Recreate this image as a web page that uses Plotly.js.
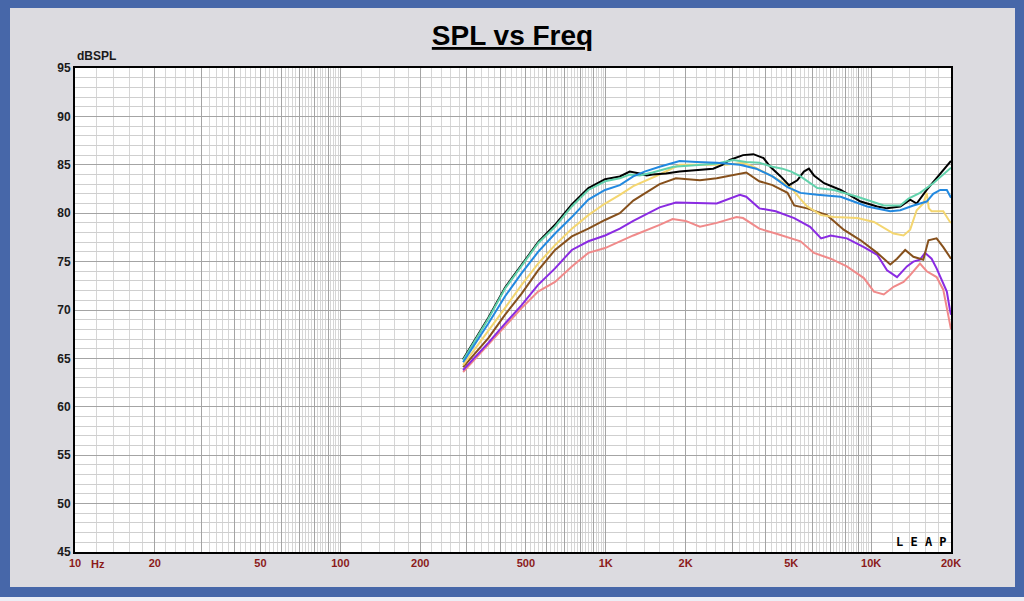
<!DOCTYPE html>
<html>
<head>
<meta charset="utf-8">
<script src="https://cdn.plot.ly/plotly-3.0.1.min.js"></script>
<style>
html,body{margin:0;padding:0;background:#eceef5;overflow:hidden;}
#frame{position:absolute;left:0;top:0;width:1024px;height:597px;background:#4767a9;}
#chart{position:absolute;left:10px;top:8px;width:1005px;height:579px;}
</style>
</head>
<body>
<div id="frame"></div>
<div id="chart"></div>
<script>
// [Hz, dB SPL]
const pink = [[290,63.6],[361,66.4],[417,68.3],[482,70.2],[556,71.9],[644,72.9],[745,74.5],[860,75.9],[994,76.4],[1130,77.1],[1270,77.7],[1596,78.8],[1786,79.4],[2000,79.2],[2264,78.6],[2620,79.0],[3110,79.6],[3292,79.5],[3790,78.4],[4370,77.9],[5420,77.1],[6090,75.9],[7040,75.3],[8100,74.5],[9390,73.3],[10250,71.9],[11160,71.6],[12150,72.4],[13250,72.9],[14030,73.6],[15280,74.8],[16200,74.0],[17650,73.4],[18700,72.1],[19820,68.6],[20000,68.0]];
const purple = [[290,63.8],[361,66.6],[417,68.6],[482,70.5],[556,72.6],[644,74.3],[745,76.2],[860,77.1],[994,77.7],[1130,78.4],[1270,79.2],[1596,80.6],[1838,81.1],[2264,81.0],[2620,81.0],[3200,81.9],[3384,81.7],[3790,80.5],[4370,80.2],[5130,79.5],[5890,78.6],[6480,77.4],[7040,77.7],[8100,77.4],[9390,76.5],[10540,75.7],[11480,74.1],[12520,73.4],[13640,74.5],[14430,75.0],[15280,75.2],[15970,75.9],[16900,75.3],[17650,74.3],[19290,71.9],[19820,70.0],[20000,69.5]];
const brown = [[290,64.1],[361,67.1],[417,69.5],[482,71.7],[556,74.1],[644,76.2],[745,77.6],[860,78.4],[994,79.3],[1130,80.0],[1270,81.3],[1596,83.0],[1838,83.6],[2264,83.4],[2620,83.6],[3200,84.1],[3384,84.2],[3790,83.3],[4250,82.9],[4840,82.1],[5130,80.8],[5740,80.5],[6820,79.8],[7880,78.3],[9130,77.2],[10540,75.9],[11810,74.7],[12520,75.3],[13440,76.2],[14430,75.5],[15730,75.2],[16450,77.2],[17650,77.4],[18700,76.5],[19820,75.5],[20000,75.3]];
const yellow = [[290,64.3],[361,67.8],[417,70.2],[482,72.6],[556,74.8],[644,76.7],[745,78.4],[860,79.8],[994,81.0],[1130,81.9],[1270,82.8],[1596,84.0],[1898,85.0],[2264,85.0],[2840,85.0],[3292,85.2],[3600,84.8],[4250,83.8],[4980,82.7],[5400,81.5],[5740,80.7],[6480,79.8],[7240,79.6],[8880,79.5],[10250,79.1],[12150,77.9],[13250,77.7],[14030,78.3],[14850,80.3],[15730,81.0],[16200,82.1],[16500,80.5],[16900,80.2],[17650,80.2],[18700,80.2],[19820,79.1],[20000,79.0]];
const black = [[290,64.9],[361,69.2],[417,72.3],[482,74.7],[556,77.0],[644,78.8],[745,80.9],[860,82.6],[994,83.5],[1130,83.8],[1231,84.3],[1343,84.1],[1425,83.9],[1500,84.0],[1686,84.1],[1898,84.3],[2264,84.5],[2540,84.6],[2750,85.0],[2931,85.5],[3292,86.0],[3600,86.1],[3932,85.7],[4170,84.8],[4563,83.8],[4905,82.9],[5270,83.4],[5580,84.3],[5830,84.6],[6090,83.9],[6650,83.1],[7680,82.4],[9130,81.2],[10540,80.7],[11480,80.5],[12880,80.7],[14030,81.4],[14850,81.0],[16200,82.4],[18210,84.1],[19820,85.3],[20000,85.4]];
const teal = [[290,64.8],[361,69.1],[417,72.2],[482,74.6],[556,76.9],[644,78.6],[745,80.7],[860,82.4],[994,83.3],[1130,83.6],[1231,84.0],[1343,83.9],[1500,84.2],[1800,84.8],[2264,85.0],[2600,85.1],[3017,85.5],[3384,85.3],[3790,85.2],[4250,84.8],[4630,84.6],[5000,84.3],[5420,83.8],[6270,82.6],[7240,82.4],[8880,81.7],[11160,80.8],[12880,80.8],[13830,81.5],[15280,82.1],[17140,83.1],[19820,84.6],[20000,84.7]];
const blue = [[290,64.6],[361,68.6],[417,71.4],[482,73.8],[556,76.0],[644,77.9],[745,79.6],[860,81.4],[994,82.4],[1130,82.9],[1270,83.8],[1400,84.3],[1596,84.8],[1898,85.4],[2200,85.3],[2620,85.2],[3200,85.0],[3690,84.6],[4250,83.8],[4840,82.7],[5420,82.1],[6270,81.9],[7680,81.7],[9670,80.7],[11810,80.2],[12880,80.3],[14430,80.8],[16200,81.2],[17140,82.0],[18210,82.4],[19290,82.4],[19820,81.7],[20000,81.6]];

const labelFreqs = [10,20,50,100,200,500,1000,2000,5000,10000,20000];
const labelText = ['10','20','50','100','200','500','1K','2K','5K','10K','20K'];

// log grid: dark line at each digit, light lines every 0.2 digit
const majorGrid = [], minorGrid = [];
[10,100,1000,10000].forEach(d=>{
  for(let i=1;i<10;i++){
    if(d*i<=20000) majorGrid.push(d*i);
    for(let j=1;j<5;j++){ const v=d*(i+j*0.2); if(v<20000) minorGrid.push(v); }
  }
});
const tickText = majorGrid.map(v=>{const k=labelFreqs.indexOf(v); return k>=0?labelText[k]:'';});

const curves = [
  [pink,'#f08a8a'],[purple,'#8a2be2'],[brown,'#86501c'],[yellow,'#f4d670'],
  [black,'#000000'],[teal,'#62d2ac'],[blue,'#2289e0']
];
const traces = curves.map(([d,c])=>({
  type:'scatter',mode:'lines',x:d.map(p=>p[0]),y:d.map(p=>p[1]),
  line:{color:c,width:2},hoverinfo:'skip'
}));

const font = 'Arial, "Liberation Sans", sans-serif';
const layout = {
  width:1005,height:579,
  margin:{l:65,r:64,t:60,b:35},
  paper_bgcolor:'#dcdbe0',plot_bgcolor:'#ffffff',
  showlegend:false,
  font:{family:font,color:'#000'},
  title:{text:'SPL vs Freq',x:0.5,xanchor:'center',y:0.953,yanchor:'middle',
    font:{family:font,size:28,weight:'bold',lineposition:'under',color:'#000'}},
  xaxis:{type:'log',range:[1,Math.log10(20000)],tickmode:'array',tickvals:majorGrid,ticktext:tickText,
    showgrid:true,gridcolor:'#a4a4a4',gridwidth:1,ticks:'',zeroline:false,
    showline:true,mirror:true,linecolor:'#000',linewidth:2,automargin:false,
    tickfont:{family:font,size:11,weight:'bold',color:'#8b1a1a'},
    minor:{tickmode:'array',tickvals:minorGrid,showgrid:true,gridcolor:'#d6d6d6',gridwidth:1,ticks:''}},
  yaxis:{range:[45,95],tickmode:'linear',tick0:45,dtick:5,showgrid:true,gridcolor:'#a4a4a4',gridwidth:1,
    ticks:'',zeroline:false,showline:true,mirror:true,linecolor:'#000',linewidth:2,automargin:false,
    tickfont:{family:font,size:12,weight:'bold',color:'#1a1a1a'},
    minor:{dtick:1,showgrid:true,gridcolor:'#cfcfcf',gridwidth:1,ticks:''}},
  annotations:[
    {text:'<b>dBSPL</b>',xref:'paper',yref:'paper',x:0,y:1,xanchor:'left',yanchor:'bottom',yshift:3,
      showarrow:false,font:{family:font,size:12,color:'#1a1a1a'}},
    {text:'<b>Hz</b>',xref:'paper',yref:'paper',x:0,y:0,xanchor:'center',yanchor:'top',xshift:23,yshift:-4,
      showarrow:false,font:{family:font,size:11,color:'#8b1a1a'}},
    {text:'<b>L E A P</b>',xref:'paper',yref:'paper',x:1,y:0,xanchor:'right',yanchor:'bottom',xshift:-2,yshift:1,
      showarrow:false,font:{family:'"DejaVu Sans Mono", monospace',size:12,color:'#000'}}
  ]
};

Plotly.newPlot('chart',traces,layout,{staticPlot:true,displayModeBar:false});
</script>
</body>
</html>
